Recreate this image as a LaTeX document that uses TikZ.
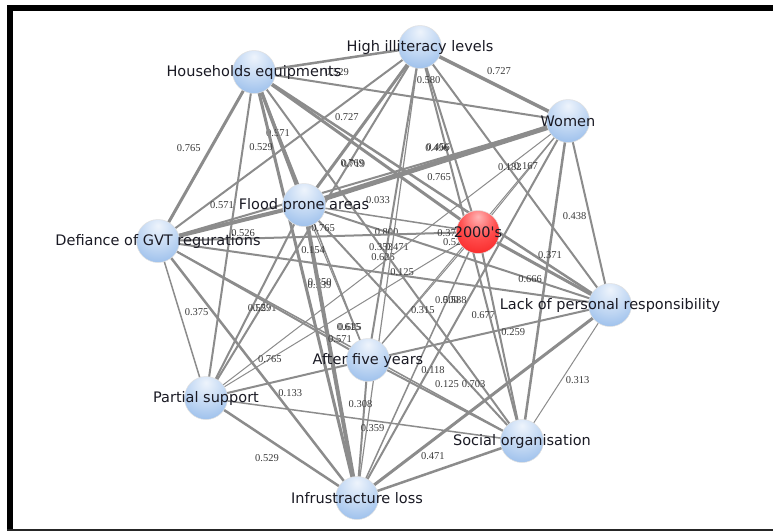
\documentclass[tikz,border=0pt]{standalone}
\usepackage{fontspec}
\newfontfamily\lblfont{DejaVu Sans}
\newfontfamily\wtfont{Liberation Serif}
\definecolor{edgegray}{HTML}{8C8C8C}
\definecolor{wtgray}{HTML}{3A3A3A}
\definecolor{lbltext}{HTML}{1A1A24}
\definecolor{bsA}{HTML}{EEF4FC}
\definecolor{bsB}{HTML}{BCD4F2}
\definecolor{bsC}{HTML}{7FADE6}
\definecolor{bsD}{HTML}{5790DA}
\definecolor{rsA}{HTML}{FFB4B4}
\definecolor{rsB}{HTML}{FF4A4A}
\definecolor{rsC}{HTML}{F41212}
\definecolor{rsD}{HTML}{D40000}
\pgfdeclareradialshading{bluesph}{\pgfpoint{0bp}{18bp}}{color(0bp)=(bsA); color(24bp)=(bsB); color(50bp)=(bsC); color(68bp)=(bsD); color(100bp)=(bsD)}
\pgfdeclareradialshading{redsph}{\pgfpoint{0bp}{18bp}}{color(0bp)=(rsA); color(22bp)=(rsB); color(50bp)=(rsC); color(68bp)=(rsD); color(100bp)=(rsD)}
\tikzset{
  lnk/.style={draw=edgegray, line width=#1},
  wt/.style={font=\wtfont\fontsize{10.5}{10.5}\selectfont, text=wtgray, inner sep=0pt},
  bsph/.style={circle, minimum size=43pt, inner sep=0pt, shading=bluesph, draw=black!12, line width=0.5pt},
  rsph/.style={circle, minimum size=43pt, inner sep=0pt, shading=redsph, draw=black!12, line width=0.5pt},
  nlbl/.style={font=\lblfont\fontsize{14.5}{16}\selectfont, text=lbltext, inner sep=0pt}
}
\begin{document}
\begin{tikzpicture}[x=1pt, y=-1pt]
\useasboundingbox (0,0) rectangle (773,531);
\fill[white] (0,0) rectangle (773,531);
% frame
\fill[black] (7,5) rectangle (773,11);
\fill[black] (7,5) rectangle (13,531);
\fill[black!85] (7,529) rectangle (773,531);

% node positions
\coordinate (cH) at (254,72);
\coordinate (cI) at (420,47);
\coordinate (cW) at (568,121);
\coordinate (cF) at (304,205);
\coordinate (cT) at (478,232);
\coordinate (cD) at (158,241);
\coordinate (cL) at (610,305);
\coordinate (cA) at (368,360);
\coordinate (cP) at (206,398);
\coordinate (cS) at (522,441);
\coordinate (cX) at (357,498);

% links
\draw[lnk=2.5] (cH) -- node[wt, pos=.5, yshift=-12.5pt] {0.529} (cI);
\draw[lnk=2] (cH) -- (cW);
\draw[lnk=3.5] (cH) -- node[wt, pos=.459, xshift=1pt] {0.571} (cF);
\draw[lnk=3] (cH) -- (cT);
\draw[lnk=3] (cH) -- node[wt, pos=.45, xshift=-22pt] {0.765} (cD);
\draw[lnk=2.5] (cH) -- node[wt, pos=.52, yshift=16pt] {0.765} (cL);
\draw[lnk=1.5] (cH) -- node[wt, pos=.885, xshift=-5pt] {0.625} (cA);
\draw[lnk=2] (cH) -- (cP);
\draw[lnk=2] (cH) -- node[wt, pos=.474] {0.353} (cS);
\draw[lnk=3] (cH) -- node[wt, pos=.176, xshift=-11pt] {0.529} node[wt, pos=.5, xshift=14pt] {0.539} (cX);

\draw[lnk=3.5] (cI) -- node[wt, pos=.534, yshift=15.5pt] {0.727} (cW);
\draw[lnk=3] (cI) -- (cF);
\draw[lnk=2] (cI) -- (cT);
\draw[lnk=2] (cI) -- node[wt, pos=.279, yshift=-16pt] {0.727} (cD);
\draw[lnk=2] (cI) -- (cL);
\draw[lnk=2] (cI) -- node[wt, pos=.67, xshift=-2pt] {0.625} (cA);
\draw[lnk=2] (cI) -- node[wt, pos=.33, xshift=3pt] {0.769} node[wt, pos=.33, xshift=4pt, yshift=-1pt] {0.719} node[wt, pos=.744, xshift=4pt] {0.571} (cP);
\draw[lnk=2] (cI) -- node[wt, pos=.084] {0.580} node[wt, pos=.256, xshift=-9pt] {0.496} node[wt, pos=.256, xshift=-8pt, yshift=1pt] {0.456} node[wt, pos=.68, xshift=-6pt] {0.677} (cS);
\draw[lnk=1.2] (cI) -- node[wt, pos=.443, xshift=5pt] {0.471} (cX);

\draw[lnk=5] (cW) -- (cF);
\draw[lnk=2] (cW) -- (cD);
\draw[lnk=1] (cW) -- (cT);
\draw[lnk=1] (cW) -- node[wt, pos=.19, xshift=-4pt] {0.167} (cA);
\draw[lnk=1] (cW) -- node[wt, pos=.166, xshift=2pt] {0.182} (cP);
\draw[lnk=2] (cW) -- node[wt, pos=.516, xshift=-15pt] {0.438} (cL);
\draw[lnk=2.5] (cW) -- (cS);
\draw[lnk=2] (cW) -- node[wt, pos=.475, xshift=-13pt] {0.588} (cX);

\draw[lnk=1.5] (cF) -- node[wt, pos=.425, yshift=16pt] {0.033} (cT);
\draw[lnk=4] (cD) -- node[wt, pos=.438, yshift=20pt] {0.571} (cF);
\draw[lnk=2] (cF) -- node[wt, pos=.27] {0.800} node[wt, pos=.739] {0.666} (cL);
\draw[lnk=1] (cF) -- node[wt, pos=.79, xshift=-6pt] {0.615} node[wt, pos=.497, xshift=-16pt] {0.850} (cA);
\draw[lnk=2] (cF) -- node[wt, pos=.534, xshift=8pt] {0.529} (cP);
\draw[lnk=2] (cF) -- node[wt, pos=.097, xshift=-2pt] {0.765} node[wt, pos=.76, xshift=4pt] {0.703} (cS);
\draw[lnk=4] (cF) -- node[wt, pos=.154, xshift=1pt] {0.154} (cX);

\draw[lnk=2] (cD) -- node[wt, pos=.266, yshift=6pt] {0.526} node[wt, pos=.91] {0.375} (cT);
\draw[lnk=3] (cT) -- node[wt, pos=.545, yshift=17pt] {0.371} (cL);
\draw[lnk=1] (cT) -- node[wt, pos=.61, xshift=12pt] {0.315} (cA);
\draw[lnk=1] (cP) -- node[wt, pos=.235] {0.765} node[wt, pos=.915, yshift=4pt] {0.529} (cT);
\draw[lnk=2] (cT) -- (cS);
\draw[lnk=1.5] (cT) -- node[wt, pos=.256] {0.500} node[wt, pos=.52, xshift=18pt] {0.118} (cX);

\draw[lnk=2] (cD) -- node[wt, pos=.54, yshift=3pt] {0.125} (cL);
\draw[lnk=2] (cD) -- (cA);
\draw[lnk=1.5] (cD) -- node[wt, pos=.45, xshift=17pt] {0.375} (cP);
\draw[lnk=1.5] (cD) -- node[wt, pos=.5, yshift=2pt] {0.571} (cS);
\draw[lnk=2.5] (cD) -- (cX);

\draw[lnk=2] (cA) -- node[wt, pos=.6, yshift=-5pt] {0.259} (cL);
\draw[lnk=3] (cL) -- (cX);
\draw[lnk=1] (cL) -- node[wt, pos=.55, xshift=16pt] {0.313} (cS);

\draw[lnk=2] (cP) -- node[wt, pos=.52, yshift=-15pt] {0.133} (cA);
\draw[lnk=2] (cA) -- node[wt, pos=.513, yshift=17.5pt] {0.125} (cS);
\draw[lnk=2] (cA) -- node[wt, pos=.32, xshift=-4pt] {0.308} node[wt, pos=.49, xshift=10pt] {0.359} (cX);
\draw[lnk=1.5] (cP) -- (cS);
\draw[lnk=2.5] (cP) -- node[wt, pos=.404, yshift=-20pt] {0.529} (cX);
\draw[lnk=2.5] (cS) -- node[wt, pos=.54, yshift=16pt] {0.471} (cX);

% spheres
\node[bsph] (H) at (cH) {};
\node[bsph] (I) at (cI) {};
\node[bsph] (W) at (cW) {};
\node[bsph] (F) at (cF) {};
\node[rsph] (T) at (cT) {};
\node[bsph] (D) at (cD) {};
\node[bsph] (L) at (cL) {};
\node[bsph] (A) at (cA) {};
\node[bsph] (P) at (cP) {};
\node[bsph] (S) at (cS) {};
\node[bsph] (X) at (cX) {};

% names
\node[nlbl] (Ht) at (H) {Households equipments};
\node[nlbl] (It) at (I) {High illiteracy levels};
\node[nlbl] (Wt) at (W) {Women};
\node[nlbl] (Ft) at (F) {Flood prone areas};
\node[nlbl] (Tt) at (T) {2000's};
\node[nlbl] (Dt) at (D) {Defiance of GVT regurations};
\node[nlbl] (Lt) at (L) {Lack of personal responsibility};
\node[nlbl] (At) at (A) {After five years};
\node[nlbl] (Pt) at (P) {Partial support};
\node[nlbl] (St) at (S) {Social organisation};
\node[nlbl] (Xt) at (X) {Infrustracture loss};
\end{tikzpicture}
\end{document}
